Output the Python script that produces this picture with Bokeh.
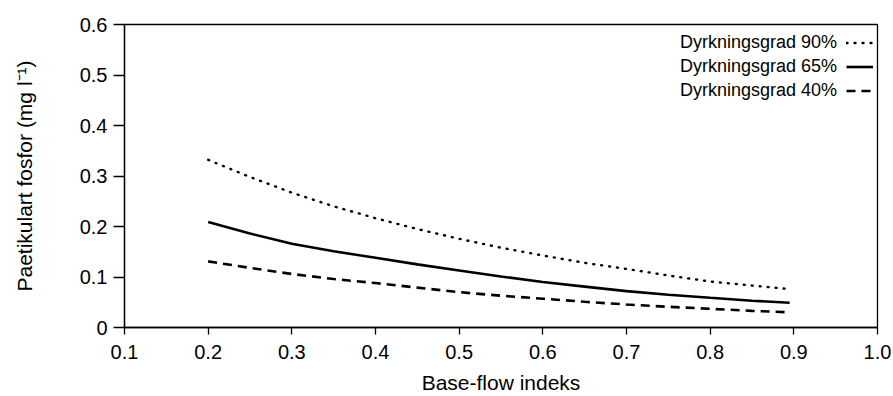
from bokeh.plotting import figure
from bokeh.models import Range1d, FixedTicker, Legend, LegendItem, ColumnDataSource
from bokeh.embed import file_html
from bokeh.resources import INLINE

# Data
base_flow = [0.2, 0.25, 0.3, 0.35, 0.4, 0.45, 0.5, 0.55, 0.6, 0.65, 0.7, 0.75, 0.8, 0.85, 0.895]
p_90 = [0.332, 0.298, 0.267, 0.240, 0.2165, 0.195, 0.1756, 0.158, 0.1426, 0.128, 0.116, 0.103, 0.091, 0.083, 0.076]
p_65 = [0.209, 0.186, 0.166, 0.151, 0.138, 0.125, 0.113, 0.101, 0.090, 0.081, 0.072, 0.065, 0.0588, 0.053, 0.049]
p_40 = [0.131, 0.118, 0.106, 0.096, 0.088, 0.079, 0.070, 0.063, 0.057, 0.051, 0.0455, 0.041, 0.037, 0.033, 0.030]

labels = ["Dyrkningsgrad 90%", "Dyrkningsgrad 65%", "Dyrkningsgrad 40%"]
x_ticks = [0.1, 0.2, 0.3, 0.4, 0.5, 0.6, 0.7, 0.8, 0.9, 1.0]
x_tick_labels = ["0.1", "0.2", "0.3", "0.4", "0.5", "0.6", "0.7", "0.8", "0.9", "1.0"]
y_ticks = [0, 0.1, 0.2, 0.3, 0.4, 0.5, 0.6]
y_tick_labels = ["0", "0.1", "0.2", "0.3", "0.4", "0.5", "0.6"]

FONT = "Liberation Sans"

src = ColumnDataSource(dict(x=base_flow, p90=p_90, p65=p_65, p40=p_40))

p = figure(width=893, height=396, output_backend="svg", toolbar_location=None,
           x_range=Range1d(0.1, 1.0), y_range=Range1d(0, 0.6),
           min_border_left=124, min_border_right=16, min_border_top=24, min_border_bottom=69)

p.xgrid.visible = False
p.ygrid.visible = False
p.outline_line_color = "black"
p.outline_line_width = 1.3
p.outline_line_alpha = 1.0
p.background_fill_color = "white"
p.border_fill_color = "white"

r90 = p.line("x", "p90", source=src, line_color="black", line_width=2.4, line_dash="1 7", line_cap="round")
r65 = p.line("x", "p65", source=src, line_color="black", line_width=2.6)
r40 = p.line("x", "p40", source=src, line_color="black", line_width=2.6, line_dash="9 6")

# axes
p.xaxis.ticker = FixedTicker(ticks=x_ticks)
p.xaxis.major_label_overrides = {t: l for t, l in zip(x_ticks, x_tick_labels)}
p.yaxis.ticker = FixedTicker(ticks=y_ticks)
p.yaxis.major_label_overrides = {t: l for t, l in zip(y_ticks, y_tick_labels)}

for ax in (p.xaxis[0], p.yaxis[0]):
    ax.axis_line_color = "black"
    ax.axis_line_width = 1.3
    ax.major_tick_line_color = "black"
    ax.major_tick_line_width = 1.3
    ax.major_tick_in = 0
    ax.minor_tick_line_color = None
    ax.major_label_text_color = "black"
    ax.major_label_text_font = FONT
    ax.major_label_text_font_size = "20px"
    ax.major_label_text_line_height = 1.0
    ax.axis_label_text_color = "black"
    ax.axis_label_text_font = FONT
    ax.axis_label_text_font_size = "21px"
    ax.axis_label_text_font_style = "normal"
    ax.axis_label_text_line_height = 1.0

p.xaxis.major_tick_out = 7
p.yaxis.major_tick_out = 11
p.xaxis.major_label_standoff = 10
p.yaxis.major_label_standoff = 6
p.xaxis.axis_label = "Base-flow indeks"
p.yaxis.axis_label = "Paetikulart fosfor (mg l\u207b\u00b9)"
p.xaxis.axis_label_standoff = 9
p.yaxis.axis_label_standoff = 41

renderers = [r90, r65, r40]

# text part of legend (labels, left of the sample lines)
leg_text = Legend(items=[LegendItem(label=l, renderers=[r]) for l, r in zip(labels, renderers)],
                  location=(556, 226), orientation="vertical",
                  glyph_width=0, glyph_height=21, label_height=21, label_standoff=0,
                  spacing=3, padding=0, margin=0,
                  label_text_font=FONT, label_text_font_size="18px", label_text_color="black",
                  border_line_color=None, background_fill_alpha=0)
# sample-line part of legend (right of the labels)
leg_glyph = Legend(items=[LegendItem(label=" ", renderers=[r]) for r in renderers],
                   location=(722, 226), orientation="vertical",
                   glyph_width=27, glyph_height=21, label_height=21, label_standoff=0,
                   label_width=0, spacing=3, padding=0, margin=0,
                   label_text_font=FONT, label_text_font_size="18px",
                   border_line_color=None, background_fill_alpha=0)
p.add_layout(leg_text, "center")
p.add_layout(leg_glyph, "center")

open("out.html", "w").write(file_html(p, INLINE))
